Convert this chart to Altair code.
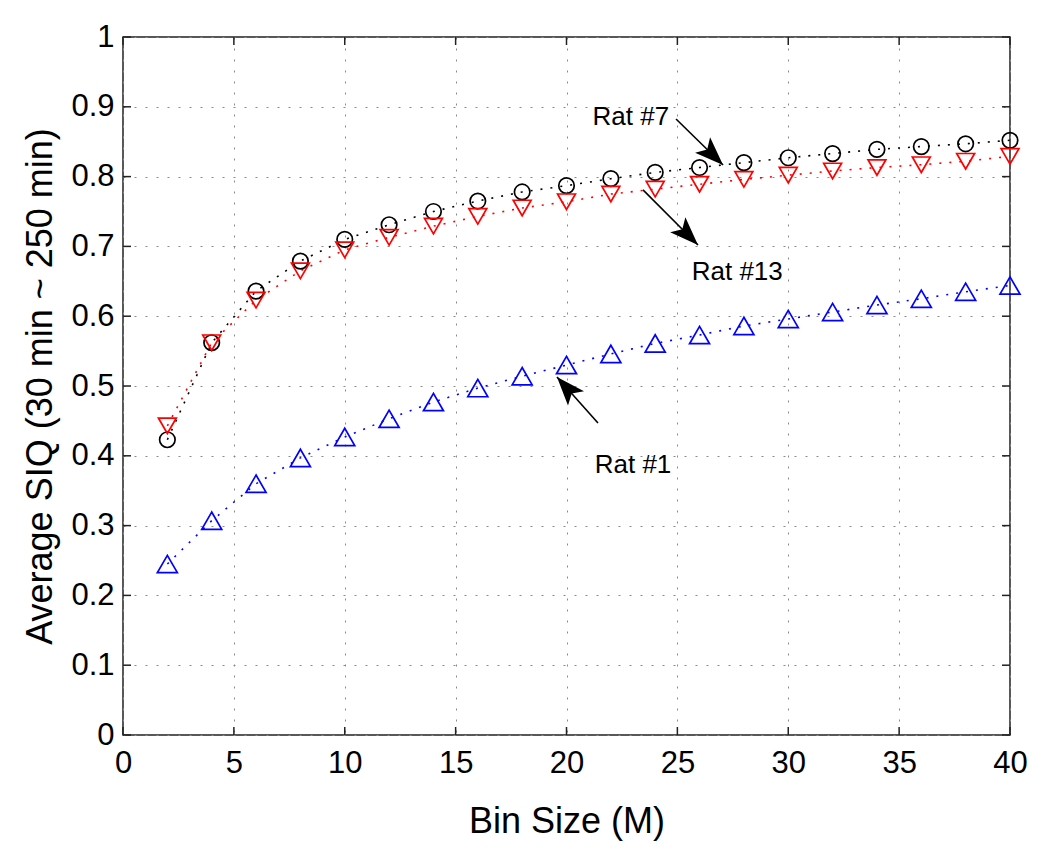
import altair as alt
import pandas as pd
import numpy as np

# ---- data ----
bin_size = [2, 4, 6, 8, 10, 12, 14, 16, 18, 20, 22, 24, 26, 28, 30, 32, 34, 36, 38, 40]
rat7 = [0.423, 0.562, 0.636, 0.679, 0.710, 0.731, 0.750, 0.765, 0.778, 0.787,
        0.797, 0.806, 0.813, 0.820, 0.827, 0.833, 0.839, 0.843, 0.847, 0.852]
rat13 = [0.443, 0.562, 0.623, 0.665, 0.695, 0.713, 0.729, 0.743, 0.755, 0.764,
         0.775, 0.782, 0.789, 0.796, 0.802, 0.808, 0.813, 0.817, 0.822, 0.829]
rat1 = [0.245, 0.307, 0.360, 0.397, 0.427, 0.453, 0.477, 0.497, 0.514, 0.530,
        0.546, 0.561, 0.573, 0.586, 0.596, 0.606, 0.616, 0.625, 0.635, 0.644]

series_names = ["Rat #7", "Rat #13", "Rat #1"]
series_colors = ["#000000", "#ff0000", "#0000ff"]
series_shapes = ["circle", "triangle-down", "triangle-up"]
series_sizes = [240, 400, 400]

x_ticks = [0, 5, 10, 15, 20, 25, 30, 35, 40]
y_ticks = [0, 0.1, 0.2, 0.3, 0.4, 0.5, 0.6, 0.7, 0.8, 0.9, 1]

ann_labels = ["Rat #7", "Rat #13", "Rat #1"]
ann_text_x = [22.9, 27.7, 23.0]
ann_text_y = [0.885, 0.663, 0.387]
arrow_tail_x = [24.94, 23.45, 21.42]
arrow_tail_y = [0.8825, 0.781, 0.447]
arrow_head_x = [27.06, 25.93, 19.57]
arrow_head_y = [0.8166, 0.702, 0.513]

# ---- layout ----
W, H = 887, 698
FONT = "Liberation Sans"

rows = []
for name, vals in zip(series_names, [rat7, rat13, rat1]):
    for b, v in zip(bin_size, vals):
        rows.append({"bin": b, "siq": v, "series": name})
df = pd.DataFrame(rows)

arr = pd.DataFrame({
    "label": ann_labels,
    "tx": ann_text_x, "ty": ann_text_y,
    "x1": arrow_tail_x, "y1": arrow_tail_y,
    "x2": arrow_head_x, "y2": arrow_head_y,
})
dx = (arr["x2"] - arr["x1"]) * W / 40.0
dy = -(arr["y2"] - arr["y1"]) * H
arr["angle"] = (np.degrees(np.arctan2(dx, -dy)) % 360.0)

xs = alt.Scale(domain=[0, 40], nice=False, zero=False)
ys = alt.Scale(domain=[0, 1], nice=False, zero=False)

color_scale = alt.Scale(domain=series_names, range=series_colors)
shape_scale = alt.Scale(domain=series_names, range=series_shapes)
size_scale = alt.Scale(domain=series_names, range=series_sizes)

x_axis = alt.Axis(
    values=x_ticks, title="Bin Size (M)", grid=True, gridDash=[2, 9],
    gridColor="#8a8a8a", gridWidth=1, ticks=False, domain=False,
    labelFont=FONT, labelFontSize=31, labelColor="#000", labelPadding=13,
    labelFlush=False, labelOverlap=False,
    titleFont=FONT, titleFontSize=36, titleFontWeight="normal", titleColor="#000",
    titleY=97, titleBaseline="alphabetic",
)
y_axis = alt.Axis(
    values=y_ticks, format="~g", title="Average SIQ (30 min ~ 250 min)", grid=True,
    gridDash=[2, 9], gridColor="#8a8a8a", gridWidth=1, ticks=False, domain=False,
    labelFont=FONT, labelFontSize=31, labelColor="#000", labelPadding=9,
    labelFlush=False, labelOverlap=False,
    titleFont=FONT, titleFontSize=36, titleFontWeight="normal", titleColor="#000",
    titleX=-83, titleY=H / 2, titleAlign="center", titleBaseline="middle",
)


def X(field):
    return alt.X(field, scale=xs, axis=x_axis)


def Y(field):
    return alt.Y(field, scale=ys, axis=y_axis)


lines = alt.Chart(df).mark_line(strokeDash=[2, 8], strokeWidth=1.6).encode(
    x=X("bin:Q"), y=Y("siq:Q"),
    color=alt.Color("series:N", scale=color_scale, legend=None),
)

points = alt.Chart(df).mark_point(filled=False, strokeWidth=1.7, opacity=1).encode(
    x=X("bin:Q"), y=Y("siq:Q"),
    color=alt.Color("series:N", scale=color_scale, legend=None),
    shape=alt.Shape("series:N", scale=shape_scale, legend=None),
    size=alt.Size("series:N", scale=size_scale, legend=None),
)

# inward tick marks on all four sides
xt = pd.DataFrame({"t": x_ticks})
yt = pd.DataFrame({"t": y_ticks})
tick_style = dict(color="#222", strokeWidth=1.5)
tb = alt.Chart(xt).mark_rule(**tick_style).encode(
    x=X("t:Q"), y=alt.value(H), y2=alt.value(H - 8))
tt = alt.Chart(xt).mark_rule(**tick_style).encode(
    x=X("t:Q"), y=alt.value(0), y2=alt.value(8))
tl = alt.Chart(yt).mark_rule(**tick_style).encode(
    y=Y("t:Q"), x=alt.value(0), x2=alt.value(8))
tr = alt.Chart(yt).mark_rule(**tick_style).encode(
    y=Y("t:Q"), x=alt.value(W), x2=alt.value(W - 8))

# annotations
shafts = alt.Chart(arr).mark_rule(color="#000", strokeWidth=1.6).encode(
    x=X("x1:Q"), y=Y("y1:Q"), x2="x2:Q", y2="y2:Q",
)
heads = alt.Chart(arr).mark_point(
    shape="M0,0L-0.75,2L0,1.55L0.75,2Z", filled=True, color="#000",
    size=820, opacity=1, strokeWidth=0,
).encode(
    x=X("x2:Q"), y=Y("y2:Q"),
    angle=alt.Angle("angle:Q", scale=None),
)
labels = alt.Chart(arr).mark_text(
    font=FONT, fontSize=26, color="#000", align="center", baseline="middle",
).encode(
    x=X("tx:Q"), y=Y("ty:Q"), text="label:N",
)

chart = alt.layer(lines, points, tb, tt, tl, tr, shafts, heads, labels).properties(
    width=W, height=H,
    autosize=alt.AutoSizeParams(type="none"),
    padding={"left": 115, "top": 29, "right": 32, "bottom": 106},
    background="white",
).configure_view(stroke="#222", strokeWidth=1.5)

chart.save("out.html", embed_options={"renderer": "svg", "actions": False})
